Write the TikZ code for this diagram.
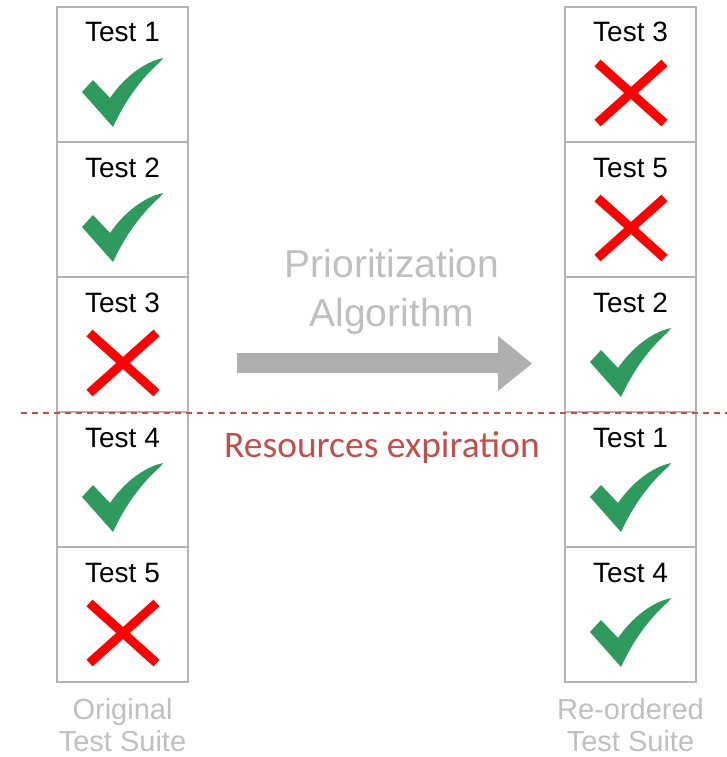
\documentclass[tikz,border=0pt]{standalone}
\usepackage{fontspec}
\setmainfont{Liberation Sans}
\newfontfamily\calib{Carlito}
\definecolor{okgreen}{HTML}{2F9A5E}
\definecolor{badred}{HTML}{FF0000}
\definecolor{lightgray}{HTML}{BFBFBF}
\definecolor{boxgray}{HTML}{B4B4B4}
\definecolor{arrowgray}{HTML}{AFAFAF}
\definecolor{expred}{HTML}{C0504D}
\tikzset{
  testbox/.style={draw=boxgray, line width=1.5pt, minimum width=131pt, minimum height=135pt, inner sep=0pt},
  testlabel/.style={anchor=base, inner sep=0pt, font=\fontsize{28}{33}\selectfont, text=black},
  caption/.style={anchor=base, inner sep=0pt, font=\fontsize{29}{34}\selectfont, text=lightgray},
  okmark/.pic={\fill[okgreen] (-40.5,85) -- (-29.5,73) -- (-12.5,91)
      .. controls (2,70) and (22,55) .. (40.5,51) -- (37.5,55)
      .. controls (18,72) and (2,95) .. (-9.5,120) -- cycle;},
  badmark/.pic={\draw[badred, line width=9pt, line cap=butt] (-33,56) -- (34,116) (34,56) -- (-33,116);}
}
\begin{document}
\begin{tikzpicture}[x=1pt,y=-1pt]
\useasboundingbox (0,0) rectangle (727,757);
% left column
\foreach \i/\t/\m in {0/1/okmark,1/2/okmark,2/3/badmark,3/4/okmark,4/5/badmark}{
  \node[testbox] (L\i) at (122.5,{7+135*\i+67.5}) {};
  \node[testlabel] (LT\i) at (122.5,{7+135*\i+35}) {Test \t};
  \pic at (122.5,{7+135*\i}) {\m};
}
% right column
\foreach \i/\t/\m in {0/3/badmark,1/5/badmark,2/2/okmark,3/1/okmark,4/4/okmark}{
  \node[testbox] (R\i) at (630.5,{7+135*\i+67.5}) {};
  \node[testlabel] (RT\i) at (630.5,{7+135*\i+35}) {Test \t};
  \pic at (630.5,{7+135*\i}) {\m};
}
% captions
\node[caption] (orig1) at (122.5,719) {Original};
\node[caption] (orig2) at (122.5,751) {Test Suite};
\node[caption] (reo1) at (630.5,719) {Re-ordered};
\node[caption] (reo2) at (630.5,751) {Test Suite};
% algorithm label
\node[anchor=base, inner sep=0pt, font=\fontsize{39}{46}\selectfont, text=lightgray] (prio) at (392,277) {Prioritization};
\node[anchor=base, inner sep=0pt, font=\fontsize{39}{46}\selectfont, text=lightgray] (algo) at (392,326) {Algorithm};
% arrow
\fill[arrowgray] (237,353) -- (498,353) -- (498,336) -- (532,363.5) -- (498,391) -- (498,373) -- (237,373) -- cycle;
% dashed line
\coordinate (dl) at (21,413);
\coordinate (dr) at (727,413);
\draw[expred, line width=1.5pt, dash pattern=on 6pt off 5pt] (dl) -- (dr);
\node[anchor=base, inner sep=0pt, font=\calib\fontsize{37.5}{44}\selectfont, text=expred] (exp) at (382,457) {Resources expiration};
\end{tikzpicture}
\end{document}
